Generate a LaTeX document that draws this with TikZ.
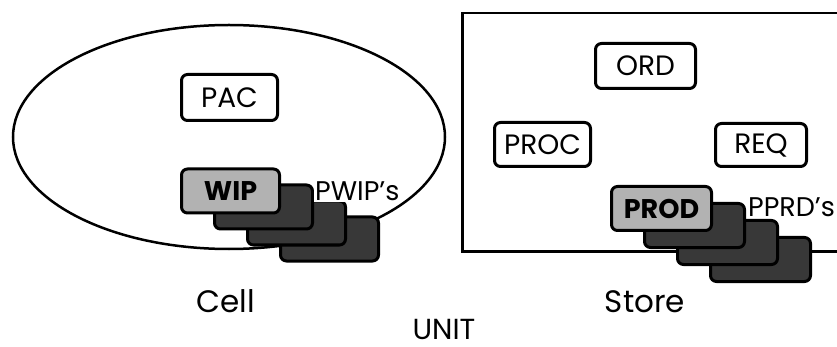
\documentclass[tikz,border=0pt]{standalone}
\usepackage{fontspec}
\setmainfont{Poppins}
\usetikzlibrary{shapes.geometric}
\begin{document}
\begin{tikzpicture}[x=1pt,y=-1pt,
  box/.style={draw, line width=3pt, rounded corners=6pt, inner sep=0pt,
    font=\fontsize{28}{30}\selectfont},
  frontbox/.style={box, fill=black!30, font=\fontsize{27}{30}\selectfont\bfseries},
  shadowbox/.style={box, fill=black!78},
  tag/.style={fill=white, inner sep=1pt, font=\fontsize{27}{29}\selectfont},
  caption/.style={inner sep=0pt, font=\fontsize{31}{33}\selectfont},
  outline/.style={draw, line width=2.5pt}]
\useasboundingbox (0,0) rectangle (837,347);
\clip (0,0) rectangle (837,347);

% Cell
\node[outline, ellipse, minimum width=432pt, minimum height=224pt, inner sep=0pt] (cell) at (229,137) {};
\node[box, minimum width=96pt, minimum height=46pt] (pac) at (229.5,97.5) {PAC};
\node[shadowbox, minimum width=98pt, minimum height=44pt] (w3) at (329.5,239) {};
\node[shadowbox, minimum width=98pt, minimum height=44pt] (w2) at (296.5,223) {};
\node[shadowbox, minimum width=98pt, minimum height=44pt] (w1) at (263.5,207) {};
\node[frontbox, minimum width=98pt, minimum height=44pt] (wip) at (230.5,191) {WIP};
\node[tag, anchor=west] (pwip) at (314,191) {PWIP's};

% Store
\node[outline, rectangle, anchor=north west, minimum width=400pt, minimum height=238pt, inner sep=0pt] (store) at (461,12) {};
\node[box, minimum width=100pt, minimum height=45pt] (ord) at (645.5,66) {ORD};
\node[box, minimum width=96pt, minimum height=44pt] (proc) at (542.5,144.5) {PROC};
\node[box, minimum width=91pt, minimum height=43pt] (req) at (761,145) {REQ};
\node[shadowbox, minimum width=100pt, minimum height=44pt] (p3) at (760.5,259.5) {};
\node[shadowbox, minimum width=100pt, minimum height=44pt] (p2) at (727.5,242.5) {};
\node[shadowbox, minimum width=100pt, minimum height=44pt] (p1) at (694.5,225.5) {};
\node[frontbox, minimum width=100pt, minimum height=44pt] (prod) at (661.5,208.5) {PROD};
\node[tag, anchor=west] (pprd) at (747,207) {PPRD's};

% captions
\node[caption, anchor=base] (celllbl) at (226,312) {Cell};
\node[caption, anchor=base] (storelbl) at (645,312) {Store};
\node[caption, anchor=base, font=\fontsize{29}{31}\selectfont] (unitlbl) at (444,339) {UNIT};
\end{tikzpicture}
\end{document}
